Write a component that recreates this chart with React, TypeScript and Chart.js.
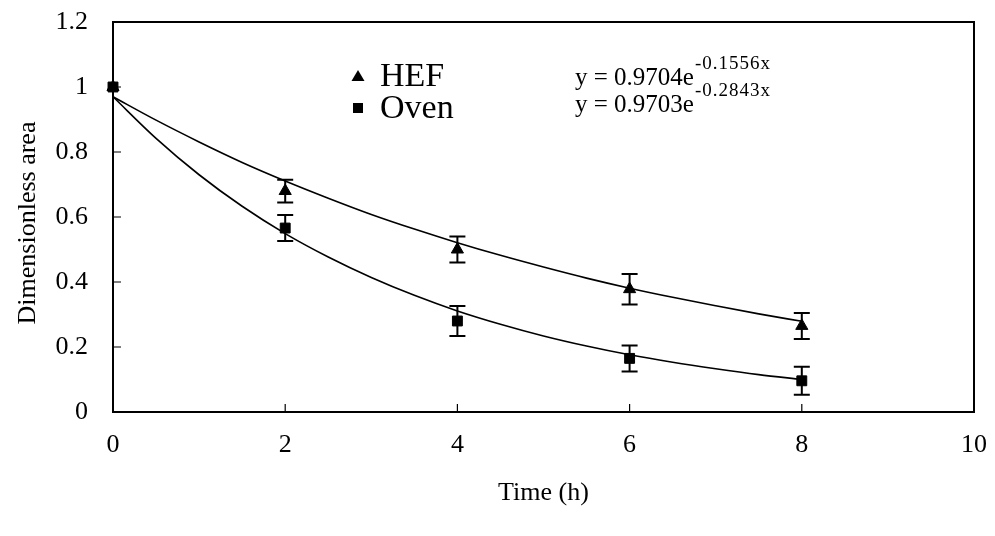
import React, { useEffect, useRef } from "react";
import { Chart, registerables } from "chart.js";
Chart.register(...registerables);

const FONT = '"Liberation Serif", "Times New Roman", serif';

// Measured data (time in hours)
const times = [0, 2, 4, 6, 8];
const hefMean = [1.0, 0.68, 0.5, 0.378, 0.265];
const hefErr = [0, 0.035, 0.04, 0.047, 0.04];
const ovenMean = [1.0, 0.566, 0.28, 0.165, 0.096];
const ovenErr = [0, 0.04, 0.046, 0.04, 0.043];

// Fitted trend lines
const fitTimes = [0, 0.5, 1, 1.5, 2, 2.5, 3, 3.5, 4, 4.5, 5, 5.5, 6, 6.5, 7, 7.5, 8];
const hefFit = [0.970, 0.898, 0.831, 0.768, 0.711, 0.658, 0.608, 0.563, 0.521, 0.482, 0.446, 0.412, 0.381, 0.353, 0.327, 0.302, 0.279];
const ovenFit = [0.970, 0.842, 0.730, 0.633, 0.549, 0.477, 0.414, 0.359, 0.311, 0.270, 0.234, 0.203, 0.176, 0.153, 0.133, 0.115, 0.100];

const yTickLabels = ["0", "0.2", "0.4", "0.6", "0.8", "1", "1.2"];
const xTickLabels = ["0", "2", "4", "6", "8", "10"];
const xTicksInner = [2, 4, 6, 8];
const yTicksInner = [0.2, 0.4, 0.6, 0.8, 1.0];

const legendLabels = ["HEF", "Oven"];
const eqMain = ["y = 0.9704e", "y = 0.9703e"];
const eqSup = ["-0.1556x", "-0.2843x"];
const xTitle = "Time (h)";
const yTitle = "Dimensionless area";

export default function App() {
  const ref = useRef<HTMLCanvasElement>(null);
  useEffect(() => {
    document.body.style.margin = "0";
    const canvas = ref.current!;
    const overlay = {
      id: "overlay",
      afterDraw(chart: any) {
        const ctx = chart.ctx as CanvasRenderingContext2D;
        const ca = chart.chartArea;
        const xs = chart.scales.x;
        const ys = chart.scales.y;
        ctx.save();
        ctx.strokeStyle = "#000";
        ctx.fillStyle = "#000";
        // frame
        ctx.lineWidth = 2;
        ctx.strokeRect(ca.left, ca.top, ca.right - ca.left, ca.bottom - ca.top);
        // inward ticks
        ctx.lineWidth = 1.2;
        ctx.beginPath();
        yTicksInner.forEach((v) => {
          const py = ys.getPixelForValue(v);
          ctx.moveTo(ca.left, py);
          ctx.lineTo(ca.left + 8, py);
        });
        xTicksInner.forEach((v) => {
          const px = xs.getPixelForValue(v);
          ctx.moveTo(px, ca.bottom);
          ctx.lineTo(px, ca.bottom - 8);
        });
        ctx.stroke();
        // error bars
        ctx.lineWidth = 2;
        const drawErr = (means: number[], errs: number[]) => {
          times.forEach((t, i) => {
            if (!errs[i]) return;
            const px = xs.getPixelForValue(t);
            const p1 = ys.getPixelForValue(means[i] + errs[i]);
            const p2 = ys.getPixelForValue(means[i] - errs[i]);
            ctx.beginPath();
            ctx.moveTo(px, p1);
            ctx.lineTo(px, p2);
            ctx.moveTo(px - 8, p1);
            ctx.lineTo(px + 8, p1);
            ctx.moveTo(px - 8, p2);
            ctx.lineTo(px + 8, p2);
            ctx.stroke();
          });
        };
        drawErr(hefMean, hefErr);
        drawErr(ovenMean, ovenErr);
        // legend
        const lx = 358;
        const ly = [76, 108];
        ctx.beginPath();
        ctx.moveTo(lx, ly[0] - 6);
        ctx.lineTo(lx + 6.5, ly[0] + 5);
        ctx.lineTo(lx - 6.5, ly[0] + 5);
        ctx.closePath();
        ctx.fill();
        ctx.fillRect(lx - 5, ly[1] - 5, 10, 10);
        ctx.font = `34px ${FONT}`;
        ctx.textBaseline = "middle";
        ctx.textAlign = "left";
        legendLabels.forEach((l, i) => ctx.fillText(l, 380, ly[i] + 1));
        // equations
        const ey = [78, 105];
        eqMain.forEach((m, i) => {
          ctx.font = `25px ${FONT}`;
          (ctx as any).letterSpacing = "0px";
          ctx.fillText(m, 575, ey[i]);
          const w = ctx.measureText(m).width;
          ctx.font = `19px ${FONT}`;
          (ctx as any).letterSpacing = "1px";
          ctx.fillText(eqSup[i], 575 + w + 1, ey[i] - 14);
          (ctx as any).letterSpacing = "0px";
        });
        // axis titles
        ctx.font = `26px ${FONT}`;
        ctx.textAlign = "center";
        ctx.fillText(xTitle, (ca.left + ca.right) / 2, 493);
        ctx.translate(28, (ca.top + ca.bottom) / 2 + 6);
        ctx.rotate(-Math.PI / 2);
        ctx.fillText(yTitle, 0, 0);
        ctx.restore();
      },
    };
    const markerBase = { backgroundColor: "#000", borderColor: "#000", borderWidth: 1, clip: false };
    const chart = new Chart(canvas, {
      type: "scatter",
      data: {
        datasets: [
          {
            label: "HEF fit",
            data: fitTimes.map((x, i) => ({ x, y: hefFit[i] })),
            showLine: true,
            borderColor: "#000",
            borderWidth: 1.6,
            pointRadius: 0,
            cubicInterpolationMode: "monotone",
          },
          {
            label: "Oven fit",
            data: fitTimes.map((x, i) => ({ x, y: ovenFit[i] })),
            showLine: true,
            borderColor: "#000",
            borderWidth: 1.6,
            pointRadius: 0,
            cubicInterpolationMode: "monotone",
          },
          {
            label: "Oven",
            data: times.map((x, i) => ({ x, y: ovenMean[i] })),
            pointStyle: "rect",
            pointRadius: 7,
            ...markerBase,
          },
          {
            label: "HEF",
            data: times.map((x, i) => ({ x, y: hefMean[i] })),
            pointStyle: "triangle",
            pointRadius: 7,
            ...markerBase,
          },
        ],
      },
      options: {
        responsive: false,
        animation: false,
        layout: { padding: { left: 0, top: 22, right: 21, bottom: 0 } },
        plugins: { legend: { display: false }, tooltip: { enabled: false } },
        scales: {
          x: {
            type: "linear",
            min: 0,
            max: 10,
            grid: { display: false, drawTicks: false },
            border: { display: false },
            ticks: {
              stepSize: 2,
              color: "#000",
              font: { family: FONT, size: 26 },
              padding: 18,
              maxRotation: 0,
              callback: (v: number) => xTickLabels[Math.round(v / 2)],
            },
            afterFit: (s: any) => {
              s.height = 124;
              s.paddingLeft = 0;
              s.paddingRight = 0;
            },
          },
          y: {
            min: 0,
            max: 1.2,
            grid: { display: false, drawTicks: false },
            border: { display: false },
            ticks: {
              stepSize: 0.2,
              color: "#000",
              font: { family: FONT, size: 26 },
              padding: 25,
              callback: (v: number) => yTickLabels[Math.round(v / 0.2)],
            },
            afterFit: (s: any) => {
              s.width = 113;
              s.paddingTop = 0;
              s.paddingBottom = 0;
            },
          },
        },
      },
      plugins: [overlay],
    } as any);
    return () => chart.destroy();
  }, []);
  return (
    <div style={{ width: 995, height: 536, position: "relative", background: "#fff" }}>
      <canvas ref={ref} width={995} height={536} style={{ display: "block" }} />
    </div>
  );
}
